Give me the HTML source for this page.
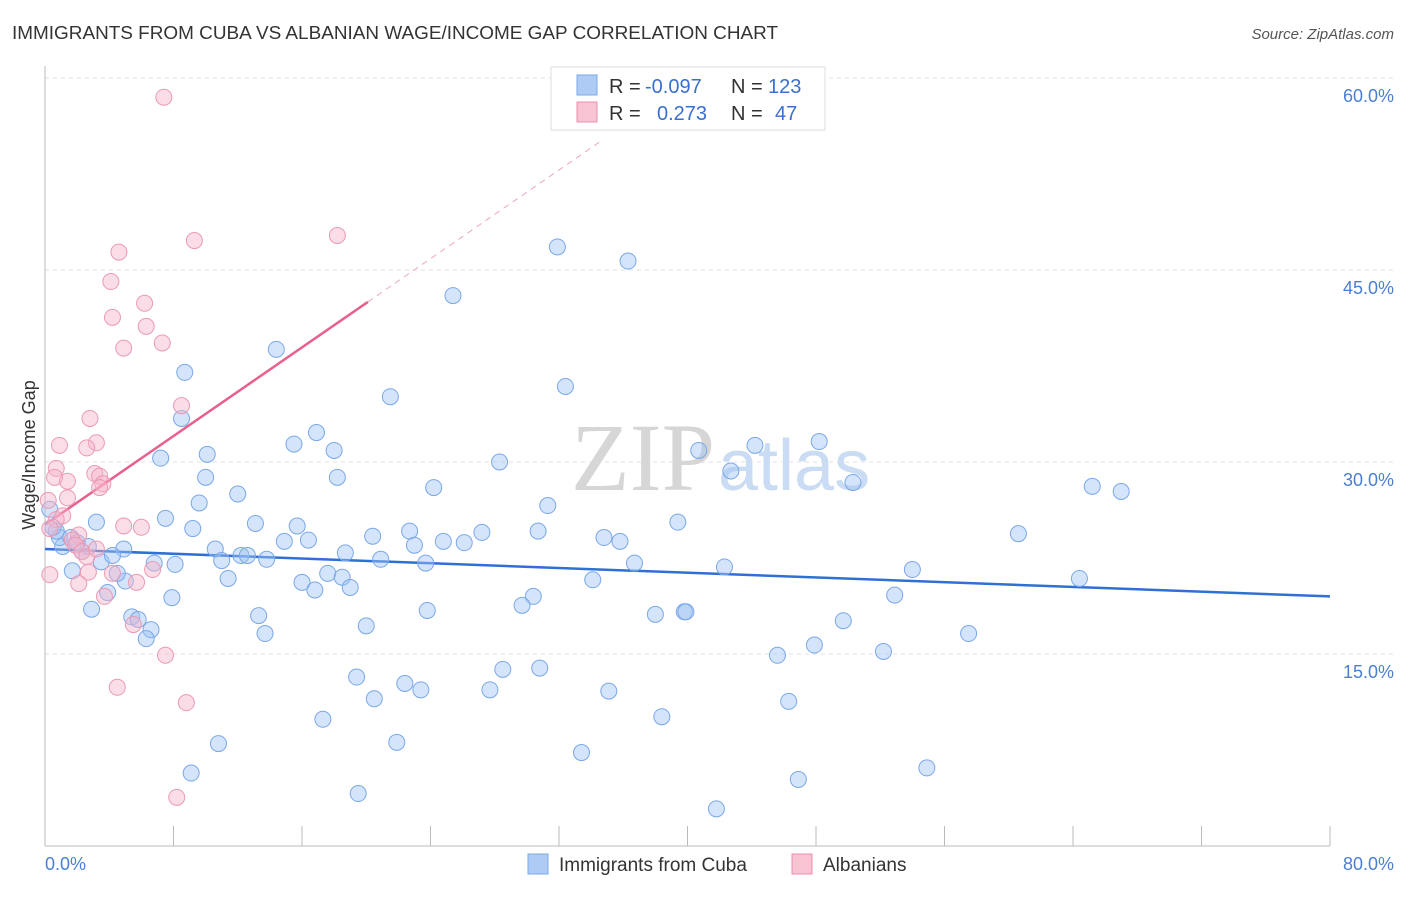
<!DOCTYPE html>
<html><head><meta charset="utf-8"><style>
body{margin:0;background:#fff;font-family:"Liberation Sans",sans-serif;}
</style></head><body>
<svg width="1406" height="892" xmlns="http://www.w3.org/2000/svg" style="font-family:'Liberation Sans',sans-serif">
<text x="12" y="39" font-size="18" fill="#333" textLength="766" lengthAdjust="spacingAndGlyphs">IMMIGRANTS FROM CUBA VS ALBANIAN WAGE/INCOME GAP CORRELATION CHART</text>
<text x="1394" y="39" font-size="15" fill="#555" text-anchor="end" font-style="italic">Source: ZipAtlas.com</text>
<g id="grid"></g>
<text x="715" y="490" font-size="96" fill="#d6d6d6" text-anchor="end" font-family="Liberation Serif">ZIP</text>
<text x="718" y="490" font-size="72" fill="#c9dcf3">atlas</text>
<g id="axes"></g>
<g id="lines"></g>
<g id="pts"></g>
<text x="28" y="462" font-size="18" fill="#333" text-anchor="middle" transform="rotate(-90 28 455)">Wage/Income Gap</text>
<text x="45" y="870" font-size="18" fill="#4a7fd6">0.0%</text>
<text x="1394" y="870" font-size="18" fill="#4a7fd6" text-anchor="end">80.0%</text>
<g>
<rect x="551" y="67" width="274" height="63" fill="#fff" stroke="#ddd"/>
<rect x="577" y="75" width="20" height="20" fill="#aecbf5" stroke="#7aa8e8"/>
<rect x="577" y="102" width="20" height="20" fill="#f8c3d3" stroke="#eb8fab"/>
<text x="609" y="93" font-size="20" fill="#333">R = <tspan fill="#3a6fd0" x="645">-0.097</tspan></text>
<text x="731" y="93" font-size="20" fill="#333">N = <tspan fill="#3a6fd0" x="768">123</tspan></text>
<text x="609" y="120" font-size="20" fill="#333">R = <tspan fill="#3a6fd0" x="657">0.273</tspan></text>
<text x="731" y="120" font-size="20" fill="#333">N = <tspan fill="#3a6fd0" x="775">47</tspan></text>
</g>
<g>
<rect x="528" y="854" width="20" height="20" fill="#aecbf5" stroke="#7aa8e8"/>
<text x="559" y="871" font-size="19" fill="#333">Immigrants from Cuba</text>
<rect x="792" y="854" width="20" height="20" fill="#f8c3d3" stroke="#eb8fab"/>
<text x="823" y="871" font-size="19" fill="#333">Albanians</text>
</g>
</svg>
<script>
const yTicks=[15,30,45,60];
const yTickLabels=["15.0%","30.0%","45.0%","60.0%"];
const xTicks=[0,8,16,24,32,40,48,56,64,72,80];
const cubaX=[31.9,36.3,25.4,32.4,21.5,14.4,8.7,8.5,7.2,10.1,10.0,12.0,9.6,7.5,9.2,3.2,13.1,15.7,16.9,15.5,18.0,18.2,28.3,24.2,31.3,40.7,42.7,44.2,48.2,50.3,65.2,67.0,60.6,39.4,30.7,34.8,35.8,27.2,24.8,26.1,22.7,23.0,20.4,18.7,14.9,16.4,10.6,11.0,12.2,12.6,13.8,8.1,6.8,11.4,16.0,16.8,17.6,18.5,19.0,20.9,23.7,36.7,34.1,42.3,54.0,64.4,52.9,30.4,29.7,23.8,13.3,20.0,13.7,7.9,5.4,5.8,6.6,6.3,2.9,5.0,4.5,3.5,3.9,1.7,2.3,1.1,0.9,1.6,0.7,4.9,4.2,2.7,2.0,49.7,47.9,57.5,52.2,45.6,38.0,39.8,39.9,28.5,30.8,19.4,22.4,23.4,27.7,35.1,20.5,17.3,38.4,46.3,10.8,21.9,33.4,9.1,19.5,41.8,46.9,54.9,0.3,0.5];
const cubaY=[46.8,45.7,43.0,35.9,35.1,38.8,37.0,33.4,30.3,30.6,28.8,27.5,26.8,25.6,24.8,25.3,25.2,25.0,32.3,31.4,30.9,28.8,30.0,28.0,26.6,30.9,29.3,31.3,31.6,28.4,28.1,27.7,24.4,25.3,24.6,24.1,23.8,24.5,23.8,23.7,24.6,23.5,24.2,22.9,23.8,23.9,23.2,22.3,22.7,22.7,22.4,22.0,22.1,20.9,20.6,20.0,21.3,21.0,20.2,22.4,22.1,22.1,20.8,21.8,21.6,20.9,19.6,19.5,18.8,18.4,18.0,17.2,16.6,19.4,17.9,17.7,16.9,16.2,18.5,20.7,21.3,22.2,19.8,21.5,23.0,23.4,24.1,24.1,24.6,23.2,22.7,23.4,23.7,17.6,15.7,16.6,15.2,14.9,18.1,18.3,18.3,13.8,13.9,13.2,12.7,12.2,12.2,12.1,11.5,9.9,10.1,11.3,8.0,8.1,7.3,5.7,4.1,2.9,5.2,6.1,26.3,24.9];
const albX=[7.4,18.2,9.3,4.6,4.1,6.2,4.2,6.3,7.3,4.9,8.5,2.8,0.9,3.2,2.6,0.7,0.6,3.1,3.4,1.4,3.6,3.4,1.4,0.2,1.1,0.7,4.9,6.0,0.3,2.1,1.7,1.9,2.3,2.6,3.2,2.7,4.2,0.3,2.1,5.7,6.7,3.7,5.5,7.5,4.5,8.8,8.2];
const albY=[58.5,47.7,47.3,46.4,44.1,42.4,41.3,40.6,39.3,38.9,34.4,33.4,31.3,31.5,31.1,29.5,28.8,29.1,28.9,28.5,28.3,28.0,27.2,27.0,25.8,25.5,25.0,24.9,24.8,24.3,23.9,23.5,23.0,22.6,23.2,21.4,21.3,21.2,20.5,20.6,21.6,19.5,17.3,14.9,12.4,11.2,3.8];
const cubaTrend=[23.2,19.5];
const albTrend=[25.1,0.866];
const X=v=>45+v/80*1285, Y=v=>846-v*12.8;
const NS="http://www.w3.org/2000/svg";
function mk(p,t,a){const e=document.createElementNS(NS,t);for(const k in a)e.setAttribute(k,a[k]);p.appendChild(e);return e;}
const grid=document.getElementById('grid'),axes=document.getElementById('axes');
yTicks.forEach((t,i)=>{
 const l=mk(grid,'line',{x1:45,x2:1394,y1:Y(t),y2:Y(t),stroke:'#e2e2e2','stroke-dasharray':'4,4'});
 
 
 const tx=mk(axes,'text',{x:1394,y:Y(t)+24,'font-size':18,fill:'#4a7fd6','text-anchor':'end'});
 tx.textContent=yTickLabels[i];
 
 
});
const ax=mk(axes,'line',{x1:45,x2:1330,y1:846,y2:846,stroke:'#bbb'});


const ay=mk(axes,'line',{x1:45,x2:45,y1:66,y2:846,stroke:'#bbb'});


xTicks.forEach(t=>{
 const l=mk(axes,'line',{x1:X(t),x2:X(t),y1:826,y2:846,stroke:'#bbb'});
 
 
});
const pts=document.getElementById('pts');
cubaX.forEach((x,i)=>{
 const c=mk(pts,'circle',{cx:X(x),cy:Y(cubaY[i]),r:8,fill:'rgba(160,196,245,0.45)',stroke:'#7aa8e8','stroke-width':1});
 
 
});
albX.forEach((x,i)=>{
 const c=mk(pts,'circle',{cx:X(x),cy:Y(albY[i]),r:8,fill:'rgba(246,180,202,0.45)',stroke:'#eb9ab3','stroke-width':1});
 
 
});
const lines=document.getElementById('lines');
const bl=mk(lines,'line',{x1:X(0),y1:Y(cubaTrend[0]),x2:X(80),y2:Y(cubaTrend[1]),stroke:'#2f6fd6','stroke-width':2.5});


const xe=20.1,xd=34.5;
const pl=mk(lines,'line',{x1:X(0),y1:Y(albTrend[0]),x2:X(xe),y2:Y(albTrend[0]+albTrend[1]*xe),stroke:'#e8608c','stroke-width':2.5});


const pd=mk(lines,'line',{x1:X(xe),y1:Y(albTrend[0]+albTrend[1]*xe),x2:X(xd),y2:Y(albTrend[0]+albTrend[1]*xd),stroke:'#f0a8bf','stroke-width':1,'stroke-dasharray':'6,5'});


</script>
</body></html>
